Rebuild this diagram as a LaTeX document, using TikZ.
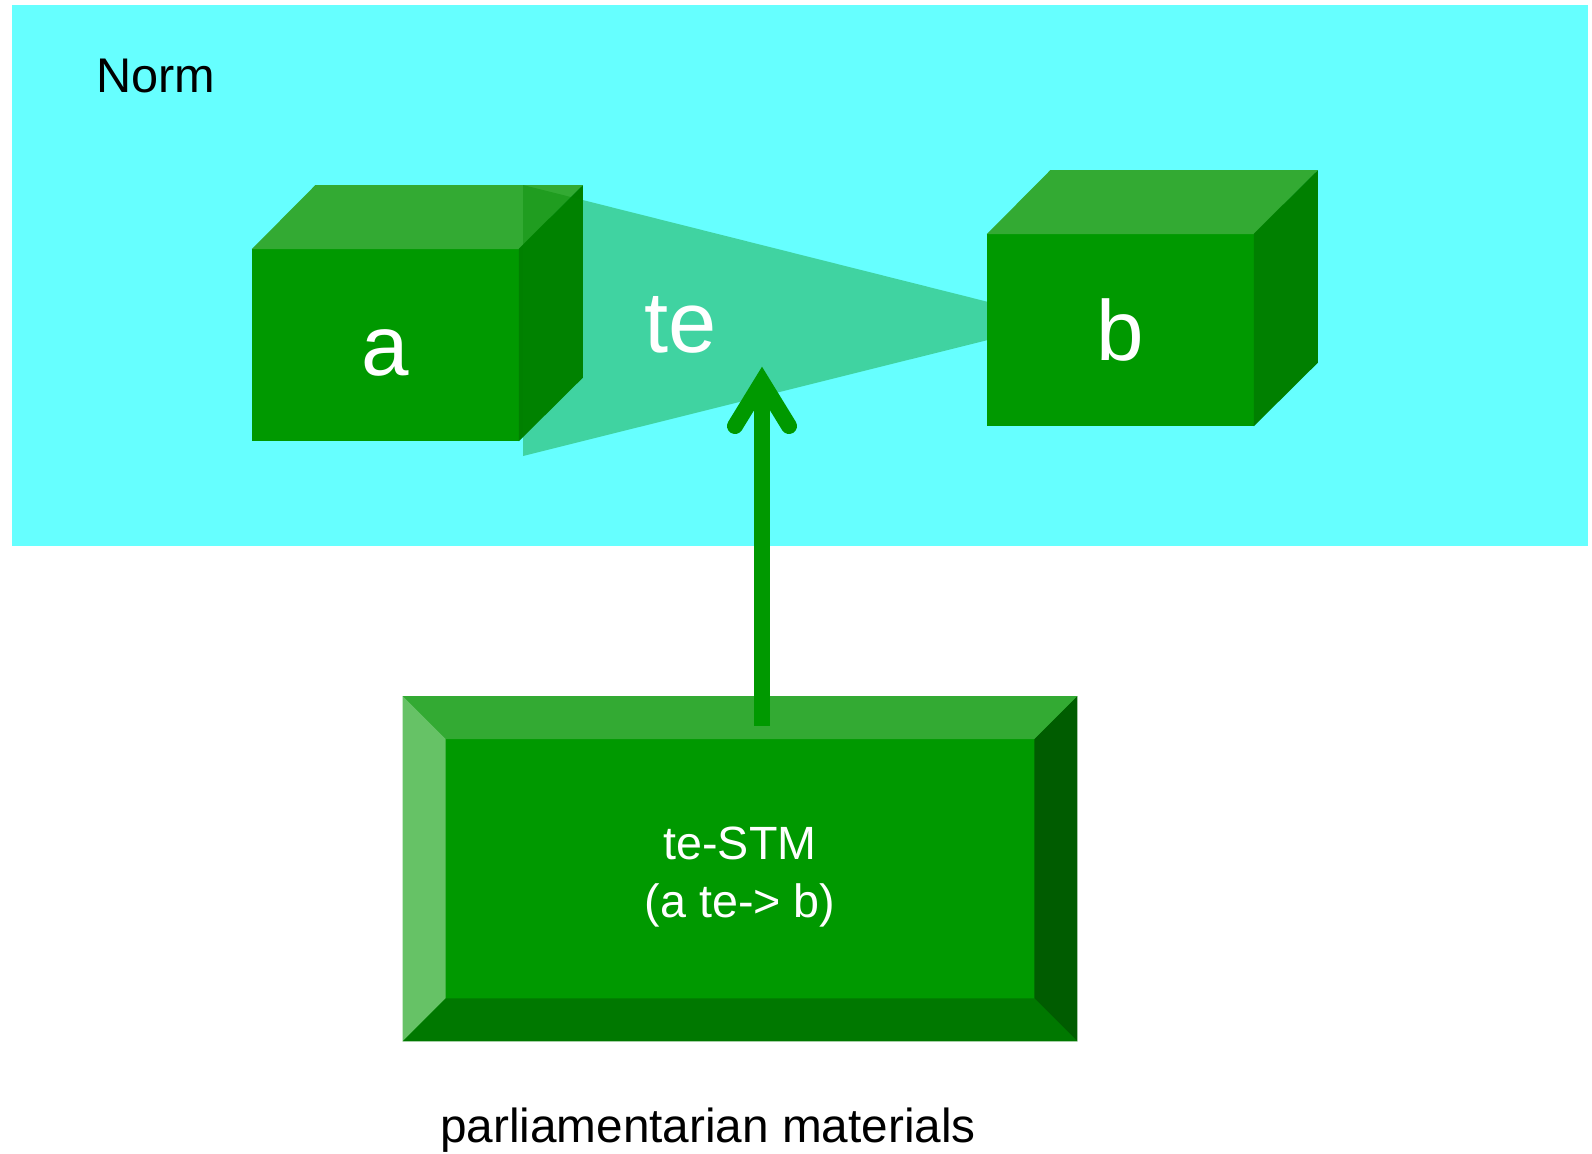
\documentclass[tikz,border=0pt]{standalone}
\usepackage{fontspec}
\setmainfont{Liberation Sans}
\usetikzlibrary{calc}
\definecolor{cyanbg}{HTML}{66FFFF}
\definecolor{gfront}{HTML}{009900}
\definecolor{gtop}{HTML}{33AA33}
\definecolor{gside}{HTML}{008000}
\definecolor{grel}{HTML}{008800}
\definecolor{blight}{HTML}{66C266}
\definecolor{bdark}{HTML}{005C00}
\definecolor{bbottom}{HTML}{007800}
\begin{document}
\begin{tikzpicture}[x=0.75pt,y=-0.75pt,
  face/.style={fill=gfront, draw=none, inner sep=0pt, text=white,
    font=\fontsize{64}{70}\selectfont, text height=45pt, text depth=0pt,
    minimum width=200.25pt, minimum height=144pt},
  topface/.style={fill=gtop, draw=none},
  sideface/.style={fill=gside, draw=none},
  relation/.style={fill=grel, fill opacity=0.37, draw=none},
  rellabel/.style={text=white, font=\fontsize{65}{70}\selectfont, anchor=base, inner sep=0pt},
  bevelbox/.style={fill=gfront, draw=none, inner sep=0pt, text=white,
    minimum width=505.5pt, minimum height=258.4pt, align=center,
    font=\fontsize{35}{43.7}\selectfont},
  plain/.style={text=black, anchor=base, inner sep=0pt, font=\fontsize{36.5}{44}\selectfont},
  arrowline/.style={draw=gfront, line width=12pt},
  arrowhead/.style={draw=gfront, line width=12pt, line cap=round, line join=miter}
]
\useasboundingbox (0,0) rectangle (1592,1153);
\fill[cyanbg] (12,5) rectangle (1588,545.5);
\node[plain] (norm) at (156,92) {Norm};

% cube a
\node[face] (a) at (385.5,345) {a};
\fill[topface] ($(a.north west)+(0,0.5)$) -- ++(63.5,-64) -- ($(a.north east)+(63.5,-63.5)$) -- ($(a.north east)+(0,0.5)$) -- cycle;
\fill[sideface] ($(a.north east)+(-0.5,0)$) -- ++(64,-63.5) -- ($(a.south east)+(63.5,-63.5)$) -- ($(a.south east)+(-0.5,0)$) -- cycle;

% relation te
\fill[relation] (523,185) -- (1064,321) -- (523,456) -- cycle;
\node[rellabel] (te) at (681,352) {te};

% cube b
\node[face] (b) at (1120.5,330) {b};
\fill[topface] ($(b.north west)+(0,0.5)$) -- ++(63.5,-64) -- ($(b.north east)+(63.5,-63.5)$) -- ($(b.north east)+(0,0.5)$) -- cycle;
\fill[sideface] ($(b.north east)+(-0.5,0)$) -- ++(64,-63.5) -- ($(b.south east)+(63.5,-63.5)$) -- ($(b.south east)+(-0.5,0)$) -- cycle;

% bevel box
\node[bevelbox] (stm) at (740,868.75) {\rule{0pt}{37pt}te-STM\\(a te-> b)};
\fill[gtop] (stm.north west) -- (stm.north east) -- ($(stm.north east)+(-43,43)$) -- ($(stm.north west)+(43,43)$) -- cycle;
\fill[blight] (stm.north west) -- ($(stm.north west)+(43,43)$) -- ($(stm.south west)+(43,-43)$) -- (stm.south west) -- cycle;
\fill[bdark] (stm.north east) -- (stm.south east) -- ($(stm.south east)+(-43,-43)$) -- ($(stm.north east)+(-43,43)$) -- cycle;
\fill[bbottom] (stm.south west) -- (stm.south east) -- ($(stm.south east)+(-43,-43)$) -- ($(stm.south west)+(43,-43)$) -- cycle;

% arrow
\coordinate (tail) at ($(stm.north)+(22,29.5)$);
\coordinate (tip) at (762,382);
\draw[arrowline] (tail) -- (tip);
\draw[arrowhead] ($(tip)+(-27,44)$) -- (tip) -- ($(tip)+(27,44)$);

\node[plain, font=\fontsize{35.8}{43}\selectfont] (pm) at (708,1142) {parliamentarian materials};
\end{tikzpicture}
\end{document}
